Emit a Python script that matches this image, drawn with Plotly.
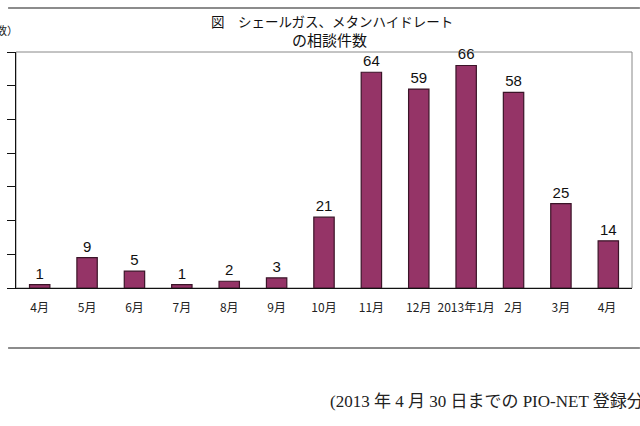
import plotly.graph_objects as go

categories = ["4月", "5月", "6月", "7月", "8月", "9月", "10月", "11月", "12月", "2013年1月", "2月", "3月", "4月 "]
values = [1, 9, 5, 1, 2, 3, 21, 64, 59, 66, 58, 25, 14]
title_lines = ["図　シェールガス、メタンハイドレート", "の相談件数"]
footnote = "(2013 年 4 月 30 日までの PIO-NET 登録分)"

W, H = 640, 426
L, R, T, B = 8, 8, 52, 138
pw, ph = W - L - R, H - T - B


def px(x):
    return (x - L) / pw


def py(y):
    return (H - B - y) / ph


fig = go.Figure(go.Bar(
    x=categories, y=values,
    width=0.43,
    marker=dict(color="#953467", line=dict(color="#3b1428", width=1.2)),
    text=[str(v) for v in values], textposition="outside",
    textfont=dict(family="Liberation Sans, Arial", size=15, color="#111"),
    cliponaxis=False,
))

fig.update_layout(
    width=W, height=H, margin=dict(l=L, r=R, t=T, b=B),
    paper_bgcolor="white", plot_bgcolor="white",
    showlegend=False, bargap=0.57,
    font=dict(family="Noto Sans CJK JP", color="#222"),
)
fig.update_xaxes(
    showline=True, linecolor="#111", linewidth=1.2,
    ticks="", tickfont=dict(family="Noto Sans CJK JP", size=12, color="#222"),
    ticklabelstandoff=8, showgrid=False,
)
fig.update_yaxes(
    range=[0, 70], dtick=10, showgrid=False, zeroline=False,
    showline=True, linecolor="#111", linewidth=1.2,
    ticks="outside", ticklen=8, tickcolor="#111", tickwidth=1.2,
    showticklabels=False,
)

shapes = [
    dict(type="rect", xref="paper", yref="paper", x0=0, x1=1, y0=0, y1=1,
         line=dict(color="#888", width=1), layer="below"),
    dict(type="line", xref="paper", yref="paper", x0=px(0), x1=px(640), y0=py(8), y1=py(8),
         line=dict(color="#666", width=1.5)),
    dict(type="line", xref="paper", yref="paper", x0=px(0), x1=px(640), y0=py(348), y1=py(348),
         line=dict(color="#666", width=1.5)),
]
fig.update_layout(shapes=shapes)

annotations = [
    dict(xref="paper", yref="paper", showarrow=False, x=px(328), y=py(21),
         text=title_lines[0], xanchor="center", yanchor="middle",
         font=dict(family="Noto Sans CJK JP", size=13.5, color="#111")),
    dict(xref="paper", yref="paper", showarrow=False, x=px(326), y=py(40),
         text=title_lines[1], xanchor="center", yanchor="middle",
         font=dict(family="Noto Sans CJK JP", size=15, color="#111")),
    dict(xref="paper", yref="paper", showarrow=False, x=px(12), y=py(30),
         text="数）", xanchor="right", yanchor="middle",
         font=dict(family="Noto Sans CJK JP", size=11, color="#222")),
    dict(xref="paper", yref="paper", showarrow=False, x=px(633), y=py(316),
         text="（月）", xanchor="left", yanchor="middle",
         font=dict(family="Noto Sans CJK JP", size=11, color="#222")),
    dict(xref="paper", yref="paper", showarrow=False, x=px(324), y=py(401),
         text=footnote, xanchor="left", yanchor="middle",
         font=dict(family="Liberation Serif, Noto Sans CJK JP", size=17, color="#222")),
]
fig.update_layout(annotations=annotations)

fig.write_html("out.html", config={"displayModeBar": False},
               post_script="document.body.style.margin='0';document.body.style.overflow='hidden';")
